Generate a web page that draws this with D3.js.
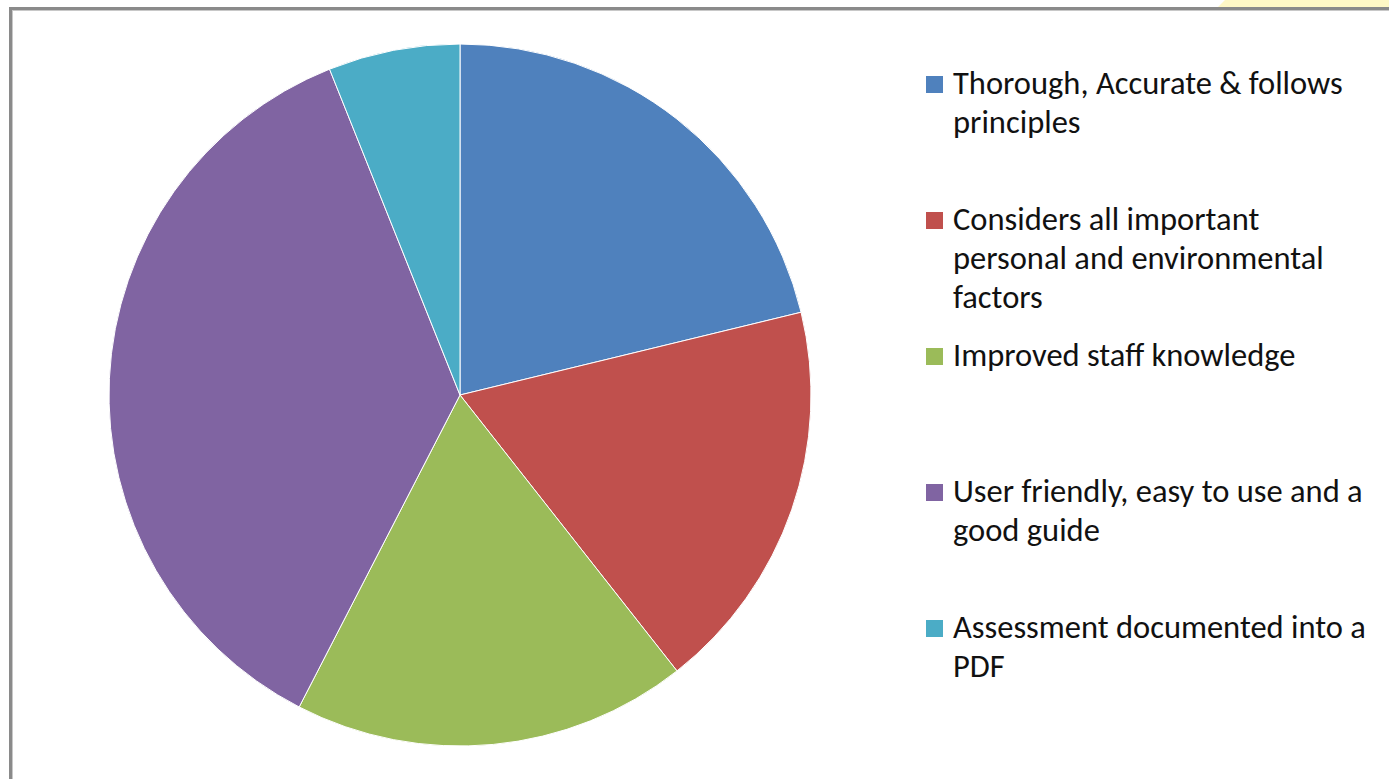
<!DOCTYPE html>
<html>
<head>
<meta charset="utf-8">
<script src="https://cdn.jsdelivr.net/npm/d3@7"></script>
<style>
  html, body { margin: 0; padding: 0; background: #fff; }
  svg { display: block; }
</style>
</head>
<body>
<svg id="chart"></svg>
<script>
var width = 1389, height = 779;

// chart data
var categories = [
	"Thorough, Accurate & follows principles",
	"Considers all important personal and environmental factors",
	"Improved staff knowledge",
	"User friendly, easy to use and a good guide",
	"Assessment documented into a PDF"
];
var values = [7, 6, 6, 12, 2];
// legend lines as they wrap in the picture
var legendLines = [
	["Thorough, Accurate & follows", "principles"],
	["Considers all important", "personal and environmental", "factors"],
	["Improved staff knowledge"],
	["User friendly, easy to use and a", "good guide"],
	["Assessment documented into a", "PDF"]
];
var colors = ["#4F81BD", "#C0504D", "#9BBB59", "#8064A2", "#4BACC6"];

var svg = d3.select("#chart")
	.attr("width", width)
	.attr("height", height);

svg.append("rect")
	.attr("width", width)
	.attr("height", height)
	.attr("fill", "#fff");

// bit of yellow from the page behind, top right
svg.append("path")
	.attr("d", "M1225,0 L1389,0 L1389,7 L1218,7 Z")
	.attr("fill", "#FFF8C6");

// chart frame (only top and left edges are in view)
svg.append("line")
	.attr("x1", 9).attr("y1", 8.5).attr("x2", width).attr("y2", 8.5)
	.attr("stroke", "#8a8a8a").attr("stroke-width", 3);
svg.append("line")
	.attr("x1", 10.5).attr("y1", 7).attr("x2", 10.5).attr("y2", height)
	.attr("stroke", "#8a8a8a").attr("stroke-width", 3);
svg.append("line")
	.attr("x1", 12).attr("y1", 10.5).attr("x2", width).attr("y2", 10.5)
	.attr("stroke", "#c8c8c8").attr("stroke-width", 1);
svg.append("line")
	.attr("x1", 12.5).attr("y1", 10).attr("x2", 12.5).attr("y2", height)
	.attr("stroke", "#c8c8c8").attr("stroke-width", 1);

// pie
var cx = 460, cy = 395, radius = 351;

var pie = d3.pie()
	.sort(null)
	.value(d => d);

var arc = d3.arc()
	.innerRadius(0)
	.outerRadius(radius);

var g = svg.append("g")
	.attr("transform", "translate(" + cx + "," + cy + ")");

g.selectAll(".slice")
	.data(pie(values))
	.enter()
	.append("path")
	.attr("class", "slice")
	.attr("d", arc)
	.attr("fill", (d, i) => colors[i])
	.attr("stroke", "#fff")
	.attr("stroke-width", 1);

// legend
var legendX = 926, firstBaseline = 94, itemStep = 136, lineStep = 39;
var fontFam = "Calibri, Carlito, 'Liberation Sans', Arial, sans-serif";

var items = svg.selectAll(".legend")
	.data(categories)
	.enter()
	.append("g")
	.attr("class", "legend")
	.attr("transform", (d, i) => "translate(" + legendX + "," + (firstBaseline + i * itemStep) + ")");

items.append("rect")
	.attr("x", 0)
	.attr("y", -18)
	.attr("width", 17)
	.attr("height", 17)
	.attr("fill", (d, i) => colors[i]);

items.each(function (d, i) {
	var t = d3.select(this).append("text")
		.attr("x", 27)
		.attr("y", 0)
		.attr("font-family", fontFam)
		.attr("font-size", "32.5px")
		.attr("fill", "#111");
	legendLines[i].forEach(function (line, j) {
		t.append("tspan")
			.attr("x", 27)
			.attr("y", j * lineStep)
			.text(line);
	});
});
</script>
</body>
</html>
